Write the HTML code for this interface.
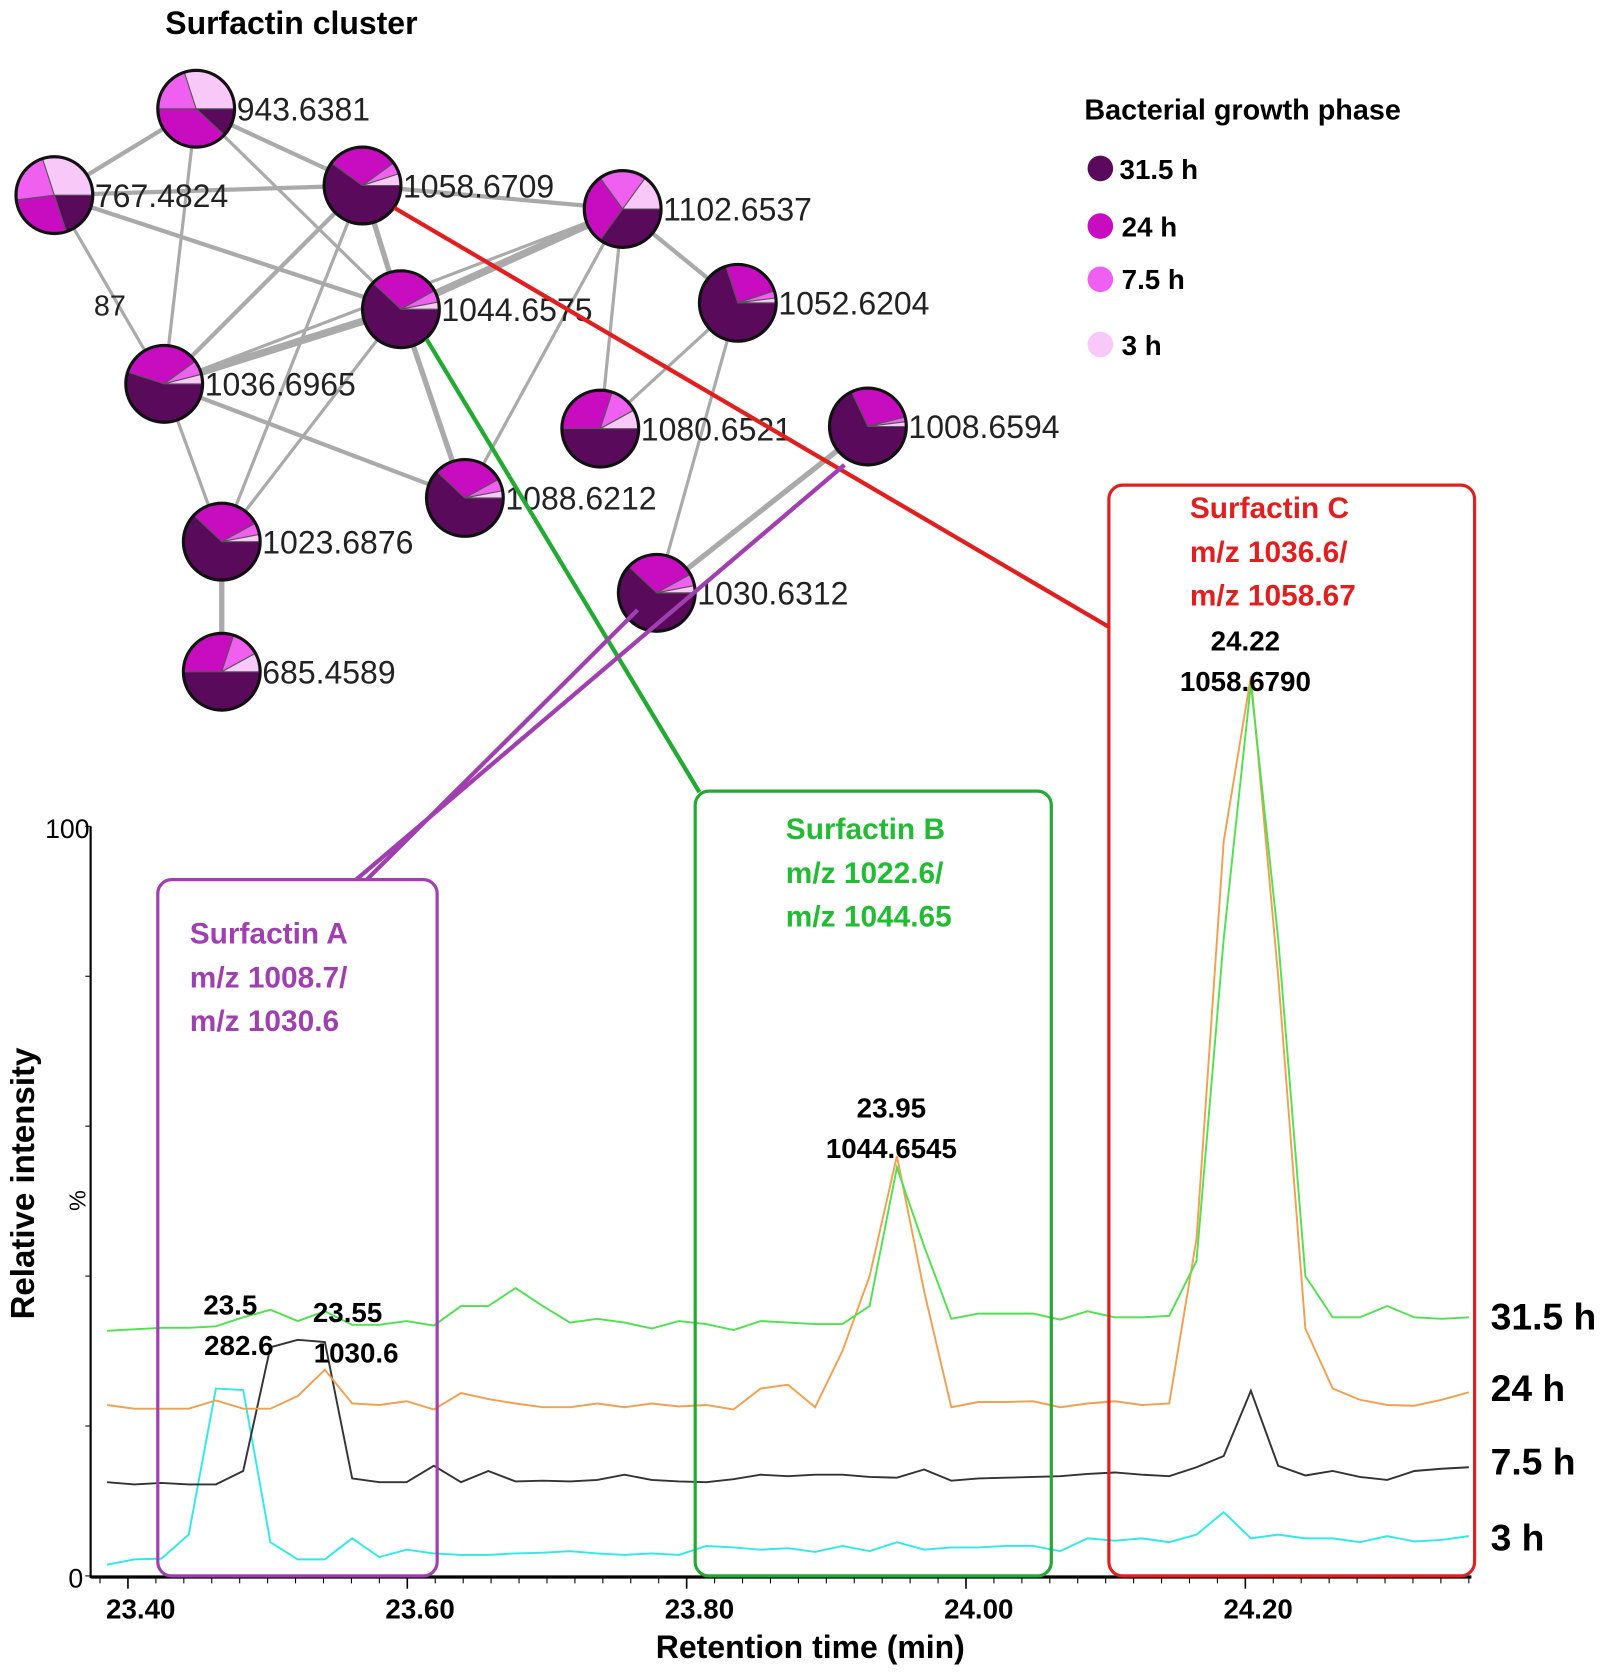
<!DOCTYPE html>
<html><head><meta charset="utf-8"><style>
html,body{margin:0;padding:0;background:#fff;}
svg{display:block;font-family:"Liberation Sans",sans-serif;}
.b{font-weight:bold;}
</style></head><body>
<svg id="fig" width="1610" height="1674" viewBox="0 0 1510 1570" preserveAspectRatio="none">
<g id="net"></g>
<text x="155" y="32" class="b" font-size="30">Surfactin cluster</text>
<text x="88" y="296" font-size="27" fill="#222">87</text>
<g>
<text x="1017" y="112" class="b" font-size="27">Bacterial growth phase</text>
<circle cx="1032" cy="158" r="12" fill="#5a0a5a"/><text x="1050" y="168" class="b" font-size="26">31.5 h</text>
<circle cx="1032" cy="212" r="12" fill="#c80cc0"/><text x="1052" y="222" class="b" font-size="26">24 h</text>
<circle cx="1032" cy="262" r="12" fill="#f060f0"/><text x="1052" y="271" class="b" font-size="26">7.5 h</text>
<circle cx="1032" cy="323" r="12" fill="#f8c8f8"/><text x="1052" y="333" class="b" font-size="26">3 h</text>
</g>
<g id="chart"></g>
<g>
<line x1="370" y1="195" x2="1040" y2="588" stroke="#e02020" stroke-width="4"/>
<line x1="400" y1="318" x2="656" y2="743" stroke="#22aa33" stroke-width="4"/>
<line x1="792" y1="436" x2="334" y2="825" stroke="#a040b0" stroke-width="4"/>
<line x1="598" y1="572" x2="344" y2="825" stroke="#a040b0" stroke-width="4"/>
<rect x="148" y="825" width="262" height="653" rx="13" fill="none" stroke="#a040b0" stroke-width="3"/>
<rect x="652" y="742" width="334" height="736" rx="13" fill="none" stroke="#22aa33" stroke-width="3"/>
<rect x="1040" y="455" width="343" height="1023" rx="13" fill="none" stroke="#e02020" stroke-width="3"/>
<g class="b" font-size="28" fill="#a040b0"><text x="178" y="885">Surfactin A</text><text x="178" y="926">m/z 1008.7/</text><text x="178" y="967">m/z 1030.6</text></g>
<g class="b" font-size="28" fill="#22bb33"><text x="737" y="787">Surfactin B</text><text x="737" y="828">m/z 1022.6/</text><text x="737" y="869">m/z 1044.65</text></g>
<g class="b" font-size="28" fill="#e02020"><text x="1116" y="486">Surfactin C</text><text x="1116" y="527">m/z 1036.6/</text><text x="1116" y="568">m/z 1058.67</text></g>
</g>
<g class="b" font-size="26" text-anchor="middle">
<text x="1168" y="610">24.22</text><text x="1168" y="648">1058.6790</text>
<text x="836" y="1048">23.95</text><text x="836" y="1086">1044.6545</text>
<text x="216" y="1233">23.5</text><text x="224" y="1271">282.6</text>
<text x="326" y="1240">23.55</text><text x="334" y="1278">1030.6</text>
</g>
<g class="b" font-size="35">
<text x="1398" y="1247">31.5 h</text><text x="1398" y="1314">24 h</text><text x="1398" y="1383">7.5 h</text><text x="1398" y="1454">3 h</text>
</g>
<text x="760" y="1555" text-anchor="middle" class="b" font-size="30">Retention time (min)</text>
<text transform="translate(32,1110) rotate(-90)" text-anchor="middle" class="b" font-size="31">Relative intensity</text>
<text transform="translate(80,1126) rotate(-90)" text-anchor="middle" font-size="22">%</text>
</svg>
<script>
const times=[];for(let i=0;i<51;i++)times.push(23.385+0.0195*i);
const s31=[32.7,32.9,33.1,33.1,33.3,34.5,35.5,34,35.3,33.5,33.5,34,33.4,36,36,38.4,36,33.8,34.3,33.8,33,34,33.6,32.8,34,33.8,33.6,33.6,36,54.5,44,34.3,35,35,35,34.2,35.3,34.5,34.5,34.7,42,85,119,85,40,34.5,34.5,36,34.5,34.3,34.5];
const s24=[22.8,22.3,22.3,22.3,23.4,22.3,22.3,24,27.5,23,22.8,23.3,22.2,24.4,23.6,23,22.5,22.5,23,22.5,23,22.6,22.8,22.2,25,25.5,22.5,30,40,56,38,22.5,23.2,23.2,23.3,22.5,23,23.3,22.8,23,45,98,120,80,33,25,23.5,22.8,22.7,23.5,24.5];
const s75=[12.5,12.2,12.4,12.2,12.2,14,30.5,31.5,31.2,13,12.5,12.5,14.7,12.5,14,12.6,12.7,12.6,12.8,13.5,12.8,12.6,12.5,12.9,13.5,13.3,13.5,13.5,13.2,13.1,14.2,12.7,13,13.1,13.2,13.3,13.6,13.8,13.5,13.3,14.5,16,24.7,14.7,13.4,14,13.2,12.8,14,14.3,14.5];
const s3=[1.5,2.2,2.3,5.5,25,24.8,4.5,2.2,2.2,5,2.5,3.5,3,2.8,2.8,3,3.1,3.3,3,2.8,3,2.8,4,3.8,3.5,3.7,3.2,4,3.3,4.5,3.5,3.8,3.8,4,4,3.3,5,4.7,5,4.5,5.5,8.5,5,5.5,5,5,4.5,5.3,4.6,4.8,5.3];
const xTicks=[23.40,23.60,23.80,24.00,24.20];
const xTickLabels=["23.40","23.60","23.80","24.00","24.20"];
const NS="http://www.w3.org/2000/svg";
function X(t){return 120+(t-23.4)*1310;}
function Y(v){return 1478-v*7.03;}
function mk(tag,attrs,parent){const e=document.createElementNS(NS,tag);for(const k in attrs)e.setAttribute(k,attrs[k]);parent.appendChild(e);return e;}
const chart=document.getElementById('chart');
let ax=mk('line',{x1:85,y1:775,x2:85,y2:1480,stroke:'#000','stroke-width':2},chart);


let bx=mk('line',{x1:85,y1:1479,x2:1380,y2:1479,stroke:'#000','stroke-width':3},chart);


for(let t=23.38;t<24.37;t+=0.02){const l=mk('line',{x1:X(t),y1:1479,x2:X(t),y2:1485,stroke:'#000','stroke-width':1},chart);

}
xTicks.forEach((t,i)=>{const l=mk('line',{x1:X(t),y1:1479,x2:X(t),y2:1490,stroke:'#000','stroke-width':1.5},chart);


const tx=mk('text',{x:X(t)+12,y:1518,'text-anchor':'middle','font-size':26,'font-weight':'bold'},chart);tx.textContent=xTickLabels[i];

});
[0,20,40,60,80,100].forEach(v=>{const l=mk('line',{x1:80,y1:Y(v),x2:85,y2:Y(v),stroke:'#000'},chart);

});
let t0=mk('text',{x:78,y:1489,'text-anchor':'end','font-size':25},chart);t0.textContent='0';


let t100=mk('text',{x:84,y:786,'text-anchor':'end','font-size':25},chart);t100.textContent='100';


[[s3,'#30e8e8','series-3h'],[s75,'#333','series-7-5h'],[s24,'#f0a050','series-24h'],[s31,'#50e050','series-31-5h']].forEach(([d,c,n])=>{
const p=mk('polyline',{points:d.map((v,i)=>X(times[i]).toFixed(1)+','+Y(v).toFixed(1)).join(' '),fill:'none',stroke:c,'stroke-width':1.8},chart);

});
const nodes={"943.6381":[184,102,[.12,.38,.2,.3]],"767.4824":[51,183,[.2,.28,.22,.3]],"1058.6709":[340,174,[.6,.3,.05,.05]],"1102.6537":[584,196,[.35,.3,.2,.15]],"1044.6575":[376,290,[.62,.3,.05,.03]],"1052.6204":[692,284,[.7,.25,.03,.02]],"1036.6965":[154,360,[.55,.35,.06,.04]],"1080.6521":[563,402,[.5,.3,.12,.08]],"1008.6594":[814,400,[.68,.28,.02,.02]],"1088.6212":[436,467,[.62,.3,.05,.03]],"1023.6876":[208,508,[.62,.3,.05,.03]],"1030.6312":[616,556,[.62,.3,.05,.03]],"685.4589":[208,630,[.5,.3,.12,.08]]};
const edges=[["943.6381","767.4824",4],["943.6381","1058.6709",4],["943.6381","1036.6965",3],["943.6381","1044.6575",3],["767.4824","1058.6709",4],["767.4824","1044.6575",4],["767.4824","1036.6965",3],["1058.6709","1102.6537",4],["1058.6709","1044.6575",5],["1058.6709","1036.6965",4],["1058.6709","1023.6876",3],["1102.6537","1044.6575",7],["1102.6537","1036.6965",3],["1102.6537","1088.6212",3],["1102.6537","1080.6521",3],["1102.6537","1052.6204",4],["1044.6575","1036.6965",7],["1044.6575","1088.6212",5],["1036.6965","1088.6212",4],["1036.6965","1023.6876",3],["1044.6575","1023.6876",3],["1052.6204","1080.6521",3],["1052.6204","1030.6312",3],["1008.6594","1030.6312",5],["1023.6876","685.4589",5]];
const net=document.getElementById('net');
edges.forEach(([a,b,w])=>{const l=mk('line',{x1:nodes[a][0],y1:nodes[a][1],x2:nodes[b][0],y2:nodes[b][1],stroke:'#aaa','stroke-width':w},net);

});
const cols=['#5a0a5a','#c80cc0','#f060f0','#f8c8f8'];const R=36;
for(const k in nodes){const [cx,cy,f]=nodes[k];const g=mk('g',{},net);


let a=0;f.forEach((fr,i)=>{const a0=a*2*Math.PI,a1=(a+fr)*2*Math.PI;a+=fr;
const x0=cx+R*Math.cos(a0),y0=cy+R*Math.sin(a0),x1=cx+R*Math.cos(a1),y1=cy+R*Math.sin(a1);
const p=mk('path',{d:`M${cx},${cy} L${x0},${y0} A${R},${R} 0 ${fr>.5?1:0} 1 ${x1},${y1} Z`,fill:cols[i],stroke:'#555','stroke-width':1},g);

});
const c=mk('circle',{cx,cy,r:R,fill:'none',stroke:'#111','stroke-width':3},g);


const t=mk('text',{x:cx+R+2,y:cy+11,'font-size':30,fill:'#222'},g);t.textContent=k;

}
</script>
</body></html>
